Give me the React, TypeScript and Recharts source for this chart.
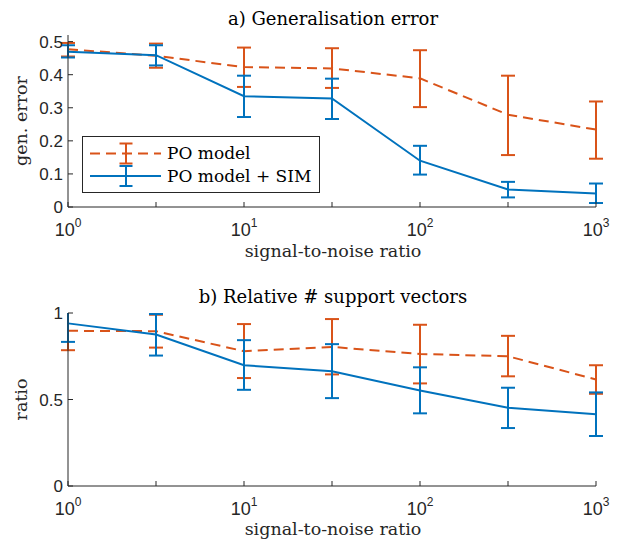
import { ComposedChart, Line, XAxis, YAxis, ErrorBar } from 'recharts';

const snr = [1, 3.1623, 10, 31.623, 100, 316.23, 1000];
const xTicks = [1, 3.1623, 10, 31.623, 100, 316.23, 1000];

// a) generalisation error
const errPO = [0.477, 0.457, 0.423, 0.419, 0.389, 0.279, 0.234];
const errPOLow = [0.455, 0.421, 0.363, 0.36, 0.302, 0.157, 0.146];
const errPOHigh = [0.496, 0.494, 0.482, 0.48, 0.474, 0.397, 0.319];
const errSIM = [0.469, 0.459, 0.335, 0.328, 0.14, 0.053, 0.041];
const errSIMLow = [0.452, 0.428, 0.272, 0.266, 0.098, 0.029, 0.012];
const errSIMHigh = [0.489, 0.489, 0.397, 0.388, 0.185, 0.076, 0.071];
const errTicks = [0, 0.1, 0.2, 0.3, 0.4, 0.5];

// b) relative number of support vectors
const svPO = [0.897, 0.895, 0.779, 0.804, 0.763, 0.75, 0.616];
const svPOLow = [0.785, 0.8, 0.624, 0.645, 0.593, 0.634, 0.533];
const svPOHigh = [1.009, 0.99, 0.936, 0.965, 0.932, 0.868, 0.698];
const svSIM = [0.94, 0.876, 0.698, 0.663, 0.552, 0.452, 0.415];
const svSIMLow = [0.833, 0.754, 0.556, 0.508, 0.42, 0.335, 0.289];
const svSIMHigh = [1.047, 0.994, 0.843, 0.82, 0.686, 0.568, 0.541];
const svTicks = [0, 0.5, 1];

const ORANGE = '#D95319';
const BLUE = '#0072BD';
const AXIS = '#262626';
const SANS = '"Liberation Sans", Arial, sans-serif';
const SERIF = '"DejaVu Serif", serif';

function rows(po: number[], poLo: number[], poHi: number[], sim: number[], simLo: number[], simHi: number[]) {
  return snr.map((x, i) => ({
    x,
    po: po[i],
    poErr: [po[i] - poLo[i], poHi[i] - po[i]],
    sim: sim[i],
    simErr: [sim[i] - simLo[i], simHi[i] - sim[i]],
  }));
}

const dataA = rows(errPO, errPOLow, errPOHigh, errSIM, errSIMLow, errSIMHigh);
const dataB = rows(svPO, svPOLow, svPOHigh, svSIM, svSIMLow, svSIMHigh);

function XTick(props: any) {
  const { x, y, payload } = props;
  const exp = Math.log10(payload.value);
  const isDecade = Math.abs(exp - Math.round(exp)) < 1e-6;
  return (
    <g>
      <line x1={x} y1={y} x2={x} y2={y - 5} stroke={AXIS} strokeWidth={1} />
      {isDecade && (
        <text x={x} y={y + 29} textAnchor="middle" fill={AXIS} fontFamily={SANS} fontSize={18}>
          <tspan>10</tspan>
          <tspan dy={-9} fontSize={12}>{Math.round(exp)}</tspan>
        </text>
      )}
    </g>
  );
}

function YTick(props: any) {
  const { x, y, payload } = props;
  return (
    <g>
      <line x1={x} y1={y} x2={x + 5} y2={y} stroke={AXIS} strokeWidth={1} />
      <text x={x - 5} y={y} dy="0.36em" textAnchor="end" fill={AXIS} fontFamily={SANS} fontSize={17}>
        {String(payload.value)}
      </text>
    </g>
  );
}

function Panel(props: {
  id: string;
  data: any[];
  height: number;
  top: number;
  bottom: number;
  yMax: number;
  yTicks: number[];
  title: string;
  yLabel: string;
  titleY: number;
  xLabelY: number;
}) {
  const { id, data, height, top, bottom, yMax, yTicks, title, yLabel, titleY, xLabelY } = props;
  const midY = (top + (height - bottom)) / 2;
  const clipId = `clip-${id}`;
  const clip = `url(#${clipId})`;
  return (
    <div className={`panel-${id}`}>
      <style>{`.panel-${id} .recharts-errorBar { clip-path: ${clip}; }`}</style>
      <ComposedChart width={623} height={height} data={data} margin={{ top, right: 27, left: 0, bottom: 0 }}>
        <defs>
          <clipPath id={clipId} clipPathUnits="userSpaceOnUse">
            <rect x={0} y={top} width={623} height={height - bottom - top + 1} />
          </clipPath>
        </defs>
        <XAxis
          dataKey="x"
          type="number"
          scale="log"
          domain={[1, 1000]}
          ticks={xTicks}
          height={bottom}
          tickLine={false}
          tickSize={0}
          tickMargin={0}
          tick={<XTick />}
          axisLine={{ stroke: AXIS, strokeWidth: 1 }}
          interval={0}
        />
        <YAxis
          type="number"
          domain={[0, yMax]}
          ticks={yTicks}
          width={68}
          allowDataOverflow
          tickLine={false}
          tickSize={0}
          tickMargin={0}
          tick={<YTick />}
          axisLine={{ stroke: AXIS, strokeWidth: 1 }}
          interval={0}
        />
        <Line
          dataKey="po"
          stroke={ORANGE}
          strokeWidth={2}
          strokeDasharray="10 6"
          dot={false}
          isAnimationActive={false}
        >
          <ErrorBar dataKey="poErr" direction="y" width={7} stroke={ORANGE} strokeWidth={2} />
        </Line>
        <Line dataKey="sim" stroke={BLUE} strokeWidth={2} dot={false} isAnimationActive={false}>
          <ErrorBar dataKey="simErr" direction="y" width={7} stroke={BLUE} strokeWidth={2} />
        </Line>
        <text x={333} y={titleY} textAnchor="middle" fontFamily={SERIF} fontSize={18} fill="#000">
          {title}
        </text>
        <text x={333} y={xLabelY} textAnchor="middle" fontFamily={SERIF} fontSize={17.5} fill={AXIS}>
          signal-to-noise ratio
        </text>
        <text
          x={22}
          y={midY}
          transform={`rotate(-90 22 ${midY})`}
          textAnchor="middle"
          dy="0.3em"
          fontFamily={SERIF}
          fontSize={17.5}
          fill={AXIS}
        >
          {yLabel}
        </text>
      </ComposedChart>
    </div>
  );
}

function LegendBox() {
  return (
    <div
      style={{
        position: 'absolute',
        left: 82,
        top: 136,
        width: 236,
        height: 55,
        border: `1px solid ${AXIS}`,
        background: '#fff',
        fontFamily: SERIF,
        fontSize: 17,
      }}
    >
      <svg width={80} height={55} style={{ position: 'absolute', left: 0, top: 0 }}>
        <line x1={7} y1={16.5} x2={78} y2={16.5} stroke={ORANGE} strokeWidth={2} strokeDasharray="10 6" />
        <line x1={43} y1={6.5} x2={43} y2={26.5} stroke={ORANGE} strokeWidth={2} />
        <line x1={36.5} y1={6.5} x2={49.5} y2={6.5} stroke={ORANGE} strokeWidth={2} />
        <line x1={36.5} y1={26.5} x2={49.5} y2={26.5} stroke={ORANGE} strokeWidth={2} />
        <line x1={7} y1={39} x2={78} y2={39} stroke={BLUE} strokeWidth={2} />
        <line x1={43} y1={29} x2={43} y2={49} stroke={BLUE} strokeWidth={2} />
        <line x1={36.5} y1={29} x2={49.5} y2={29} stroke={BLUE} strokeWidth={2} />
        <line x1={36.5} y1={49} x2={49.5} y2={49} stroke={BLUE} strokeWidth={2} />
      </svg>
      <div style={{ position: 'absolute', left: 84, top: 5, lineHeight: '22px', whiteSpace: 'nowrap' }}>
        PO model
      </div>
      <div style={{ position: 'absolute', left: 84, top: 28, lineHeight: '22px', whiteSpace: 'nowrap' }}>
        PO model + SIM
      </div>
    </div>
  );
}

export default function App() {
  return (
    <div style={{ position: 'absolute', left: 0, top: 0, width: 623, height: 539, background: '#fff' }}>
      <div style={{ position: 'absolute', left: 0, top: 0 }}>
        <Panel
          id="a"
          data={dataA}
          height={270}
          top={35}
          bottom={63}
          yMax={0.52}
          yTicks={errTicks}
          title="a) Generalisation error"
          yLabel="gen. error"
          titleY={25}
          xLabelY={257}
        />
      </div>
      <div style={{ position: 'absolute', left: 0, top: 270 }}>
        <Panel
          id="b"
          data={dataB}
          height={269}
          top={43}
          bottom={53}
          yMax={1}
          yTicks={svTicks}
          title="b) Relative # support vectors"
          yLabel="ratio"
          titleY={33}
          xLabelY={265}
        />
      </div>
      <LegendBox />
    </div>
  );
}
